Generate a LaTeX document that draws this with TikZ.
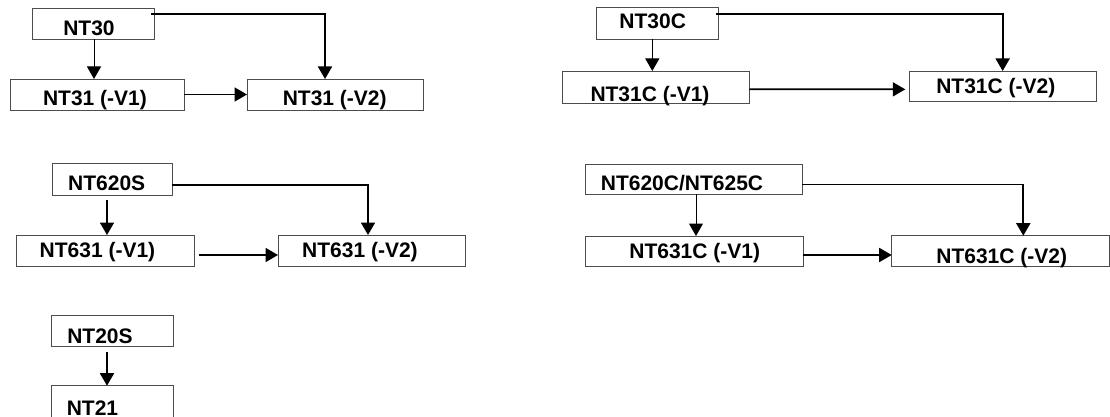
\documentclass[tikz,border=0pt]{standalone}
\usepackage{fontspec}
\setmainfont{Liberation Sans}
\usetikzlibrary{arrows.meta}
\begin{document}
\begin{tikzpicture}[x=1pt,y=-1pt,
  box/.style={draw=black!70, line width=0.9pt, inner sep=0pt, outer sep=0pt, rectangle},
  lbl/.style={inner sep=0pt, outer sep=0pt, anchor=base, font=\fontsize{21}{24}\selectfont\bfseries},
  thinarr/.style={line width=1pt, -{Triangle[length=12.5pt,width=14pt]}},
  thickarr/.style={line width=1.8pt, -{Triangle[length=12.5pt,width=14pt]}}]
\useasboundingbox (0,0) rectangle (1110,417);
\clip (0,0) rectangle (1110,417);
% boxes
\node[box, minimum width=122pt, minimum height=31pt] (b30) at (93,23.5) {};
\node[box, minimum width=174pt, minimum height=31pt] (b31a) at (97,94.5) {};
\node[box, minimum width=176pt, minimum height=31pt] (b31b) at (335,94.5) {};
\node[box, minimum width=122pt, minimum height=32pt] (b30c) at (657,23) {};
\node[box, minimum width=186.6pt, minimum height=32.3pt] (b31ca) at (656,87.15) {};
\node[box, minimum width=186.7pt, minimum height=30.7pt] (b31cb) at (1002.65,86.35) {};
\node[box, minimum width=120pt, minimum height=32pt] (b620) at (112,179) {};
\node[box, minimum width=178pt, minimum height=31pt] (b631a) at (105,250.5) {};
\node[box, minimum width=187pt, minimum height=31pt] (b631b) at (371.5,250.5) {};
\node[box, minimum width=217.3pt, minimum height=30.3pt] (b620c) at (693.65,179.15) {};
\node[box, minimum width=218.3pt, minimum height=30pt] (b631ca) at (694.15,251) {};
\node[box, minimum width=217.6pt, minimum height=30.3pt] (b631cb) at (1000.5,250.85) {};
\node[box, minimum width=122pt, minimum height=31pt] (b20) at (112,330.5) {};
\node[box, minimum width=122pt, minimum height=54.3pt] (b21) at (112,412.85) {};
% labels
\node[lbl] (t30) at (89,35.8) {NT30};
\node[lbl] (t31a) at (95,105.8) {NT31 (-V1)};
\node[lbl] (t31b) at (334.7,105.2) {NT31 (-V2)};
\node[lbl] (t30c) at (652.7,28.5) {NT30C};
\node[lbl] (t31ca) at (650,101.3) {NT31C (-V1)};
\node[lbl] (t31cb) at (995.8,93.7) {NT31C (-V2)};
\node[lbl] (t620) at (106.7,190.8) {NT620S};
\node[lbl] (t631a) at (97.5,257.2) {NT631 (-V1)};
\node[lbl] (t631b) at (360,257.5) {NT631 (-V2)};
\node[lbl] (t620c) at (682,190.3) {NT620C/NT625C};
\node[lbl] (t631ca) at (694.7,258.3) {NT631C (-V1)};
\node[lbl] (t631cb) at (1001.7,263.3) {NT631C (-V2)};
\node[lbl] (t20) at (100,343.3) {NT20S};
\node[lbl] (t21) at (92.5,415) {NT21};
% connectors
\draw[thinarr] ([xshift=1pt]b30.south) -- ([xshift=-3pt]b31a.north);
\draw[thickarr] ([xshift=-3pt,yshift=9.5pt]b30.east) -| ([xshift=-10pt]b31b.north);
\draw[thickarr] (b31a.east) -- (b31b.west);
\draw[thinarr] ([xshift=-4.7pt]b30c.south) -- ([xshift=-3.7pt]b31ca.north);
\draw[thickarr] ([xshift=-2pt,yshift=9pt]b30c.east) -| (b31cb.north);
\draw[thickarr] ([yshift=-2.2pt]b31ca.east) -- ([xshift=-4pt,yshift=-3pt]b31cb.west);
\draw[thickarr] ([xshift=-5pt,yshift=-5pt]b620.south) -- ([xshift=2pt]b631a.north);
\draw[thickarr] ([yshift=-6pt]b620.east) -| ([xshift=-3.5pt]b631b.north);
\draw[thickarr] ([xshift=5pt,yshift=-4.5pt]b631a.east) -- ([yshift=-4.5pt]b631b.west);
\draw[thinarr] ([xshift=2.35pt]b620c.south) -- ([xshift=1.85pt]b631ca.north);
\draw[thickarr] ([yshift=-5.35pt]b620c.east) -| ([xshift=22.8pt]b631cb.north);
\draw[thickarr] ([yshift=-4pt]b631ca.east) -- ([yshift=-4.15pt]b631cb.west);
\draw[thickarr] ([xshift=-5pt,yshift=-6pt]b20.south) -- ([xshift=-5pt]b21.north);
\end{tikzpicture}
\end{document}
